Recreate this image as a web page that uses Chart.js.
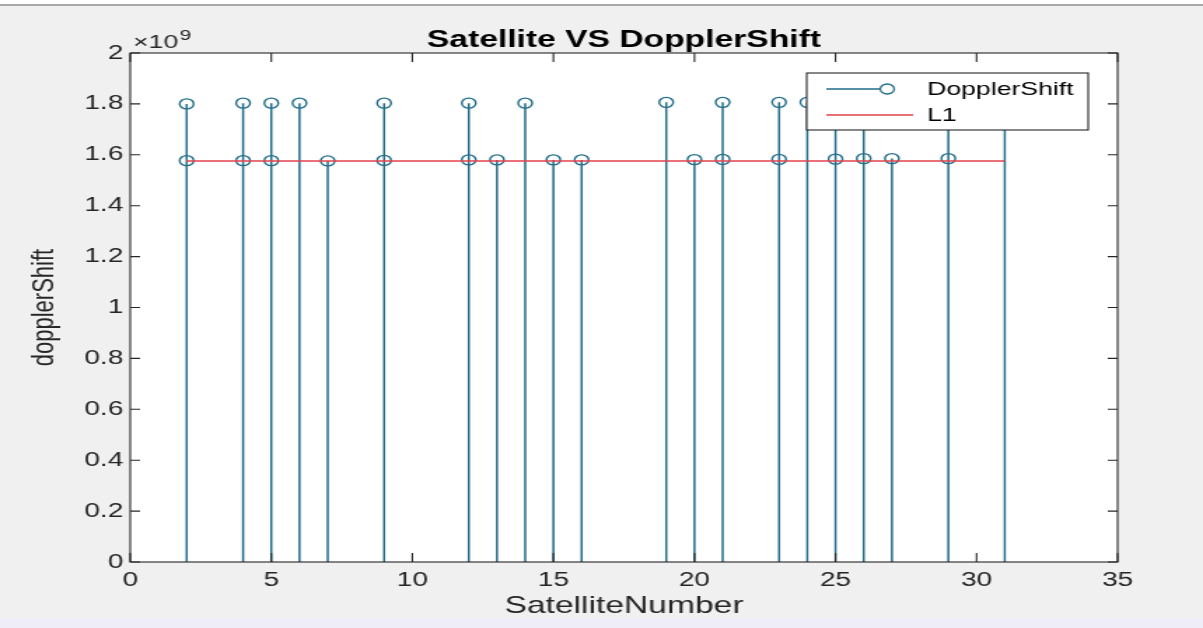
<!DOCTYPE html>
<html>
<head>
<meta charset="utf-8">
<title>Satellite VS DopplerShift</title>
<script src="https://cdn.jsdelivr.net/npm/chart.js@4.4.1/dist/chart.umd.min.js"></script>
<style>
  html, body { margin: 0; padding: 0; background: #fff; overflow: hidden; }
  #page { position: relative; width: 1203px; height: 628px; background: #f0f0f0; }
  #page::before { content: ""; position: absolute; left: 0; right: 0; top: 0; height: 4px;
                  background: #fff; border-bottom: 2px solid #a8a8a8; }
  #page::after  { content: ""; position: absolute; left: 0; right: 0; bottom: 0; height: 10px;
                  background: #efedf7; }
  /* figure is laid out narrow and widened, like the exported figure window */
  #wrap { position: absolute; left: 0; top: 0; width: 859px; height: 628px;
          transform: scaleX(1.4005); transform-origin: 0 0; }
</style>
</head>
<body>
<div id="page">
  <div id="wrap"><canvas id="stem"></canvas></div>
</div>
<script>
/* --- data --- */
const satelliteNumber = [2, 2, 4, 4, 5, 5, 6, 7, 9, 9, 12, 12, 13, 14, 15, 16,
                         19, 20, 21, 21, 23, 23, 24, 25, 25, 26, 26, 27, 29, 29, 31];
const dopplerShift = [1.800e9, 1.577e9, 1.803e9, 1.577e9, 1.803e9, 1.577e9, 1.803e9, 1.576e9,
                      1.803e9, 1.578e9, 1.803e9, 1.580e9, 1.580e9, 1.803e9, 1.580e9, 1.580e9,
                      1.806e9, 1.581e9, 1.806e9, 1.582e9, 1.806e9, 1.582e9, 1.806e9, 1.810e9,
                      1.583e9, 1.810e9, 1.585e9, 1.585e9, 1.810e9, 1.585e9, 1.810e9];
const l1Range = [2, 31];
const l1Freq = 1575.42e6;
const xTicks = { min: 0, max: 35, step: 5 };
const yTicks = { min: 0, max: 2e9, step: 0.2e9 };

const STEM = "#216d8a";
const RED = "#e3424d";
const INK = "#262626";
const FONT = "'Liberation Sans', Arial, Helvetica, sans-serif";

const points = satelliteNumber.map((x, i) => ({ x, y: dopplerShift[i] }));
// each stem: baseline -> value, then a gap
const stems = [];
points.forEach(p => { stems.push({ x: p.x, y: 0 }, { x: p.x, y: p.y }, { x: p.x, y: null }); });

/* white axes box behind the data */
const axesBg = {
  id: "axesBg",
  beforeDatasetsDraw(chart) {
    const { ctx, chartArea: a } = chart;
    ctx.save();
    ctx.fillStyle = "#fff";
    ctx.fillRect(a.left, a.top, a.width, a.height);
    ctx.restore();
  }
};

/* box outline with inward ticks on all four sides */
const frameTicks = {
  id: "frameTicks",
  afterDatasetsDraw(chart) {
    const { ctx, chartArea: a, scales: { x, y } } = chart;
    ctx.save();
    ctx.strokeStyle = INK;
    ctx.lineWidth = 1.1;
    ctx.strokeRect(a.left, a.top, a.width, a.height);
    ctx.beginPath();
    x.ticks.forEach(t => {
      const px = x.getPixelForValue(t.value);
      ctx.moveTo(px, a.bottom); ctx.lineTo(px, a.bottom - 9);
      ctx.moveTo(px, a.top); ctx.lineTo(px, a.top + 9);
    });
    y.ticks.forEach(t => {
      const py = y.getPixelForValue(t.value);
      ctx.moveTo(a.left, py); ctx.lineTo(a.left + 7, py);
      ctx.moveTo(a.right, py); ctx.lineTo(a.right - 7, py);
    });
    ctx.stroke();

    // exponent above the y axis
    ctx.fillStyle = INK;
    ctx.textBaseline = "alphabetic";
    ctx.font = "19px " + FONT;
    ctx.fillText("\u00d710", a.left + 2, a.top - 5);
    const w = ctx.measureText("\u00d710").width;
    ctx.font = "15px " + FONT;
    ctx.fillText("9", a.left + 3 + w, a.top - 13);
    ctx.restore();
  }
};

/* legend box in the upper right of the axes */
const boxLegend = {
  id: "boxLegend",
  afterDraw(chart) {
    const { ctx, chartArea: a } = chart;
    const ds = chart.data.datasets;
    const bx = a.right - 222, by = a.top + 20, bw = 201, bh = 57;
    ctx.save();
    ctx.fillStyle = "#fff";
    ctx.fillRect(bx, by, bw, bh);
    ctx.strokeStyle = INK;
    ctx.lineWidth = 1.1;
    ctx.strokeRect(bx, by, bw, bh);

    const row1 = by + 16, row2 = by + 42;
    ctx.lineWidth = 1.3;
    ctx.strokeStyle = STEM;
    ctx.beginPath();
    ctx.moveTo(bx + 14, row1); ctx.lineTo(bx + 52, row1);
    ctx.stroke();
    ctx.beginPath();
    ctx.arc(bx + 57.5, row1, 5, 0, Math.PI * 2);
    ctx.stroke();

    ctx.strokeStyle = RED;
    ctx.beginPath();
    ctx.moveTo(bx + 14, row2); ctx.lineTo(bx + 76, row2);
    ctx.stroke();

    ctx.fillStyle = "#000";
    ctx.font = "19px " + FONT;
    ctx.textBaseline = "middle";
    ctx.fillText(ds[1].label, bx + 86, row1 + 1);
    ctx.fillText(ds[2].label, bx + 86, row2 + 1);
    ctx.restore();
  }
};

Chart.defaults.font.family = FONT;
Chart.defaults.color = INK;

new Chart(document.getElementById("stem"), {
  type: "line",
  data: {
    datasets: [
      {
        label: "stems",
        data: stems,
        borderColor: STEM,
        borderWidth: 1.5,
        pointRadius: 0,
        spanGaps: false,
        order: 3
      },
      {
        label: "DopplerShift",
        data: points,
        showLine: false,
        pointStyle: "circle",
        pointRadius: 5,
        pointBorderWidth: 1.4,
        pointBorderColor: STEM,
        pointBackgroundColor: "rgba(0,0,0,0)",
        order: 2
      },
      {
        label: "L1",
        data: l1Range.map(x => ({ x, y: l1Freq })),
        borderColor: RED,
        borderWidth: 1.4,
        pointRadius: 0,
        order: 1
      }
    ]
  },
  options: {
    responsive: true,
    maintainAspectRatio: false,
    animation: false,
    events: [],
    layout: { padding: { left: 0, right: 61, top: 0, bottom: 0 } },
    plugins: {
      legend: { display: false },
      tooltip: { enabled: false },
      title: {
        display: true,
        fullSize: false,
        text: "Satellite VS DopplerShift",
        color: "#000",
        font: { size: 24, weight: "bold", lineHeight: 1 },
        padding: { top: 28, bottom: 1 }
      }
    },
    scales: {
      x: {
        type: "linear",
        min: xTicks.min, max: xTicks.max,
        offset: false,
        grid: { display: false, drawTicks: false },
        border: { display: false },
        ticks: { stepSize: xTicks.step, font: { size: 20 }, color: INK, padding: 6, maxRotation: 0 },
        title: { display: true, text: "SatelliteNumber", color: INK, font: { size: 24 }, padding: { bottom: 7 } },
        afterFit(s) { s.height = 66; }
      },
      y: {
        min: yTicks.min, max: yTicks.max,
        grid: { display: false, drawTicks: false },
        border: { display: false },
        ticks: {
          stepSize: yTicks.step, font: { size: 20 }, color: INK, padding: 5,
          callback: v => String(Math.round(v / 1e8) / 10)
        },
        title: { display: true, text: "dopplerShift", color: INK, font: { size: 22 }, padding: { top: 19 } },
        afterFit(s) { s.width = 93; }
      }
    }
  },
  plugins: [axesBg, frameTicks, boxLegend]
});
</script>
</body>
</html>
